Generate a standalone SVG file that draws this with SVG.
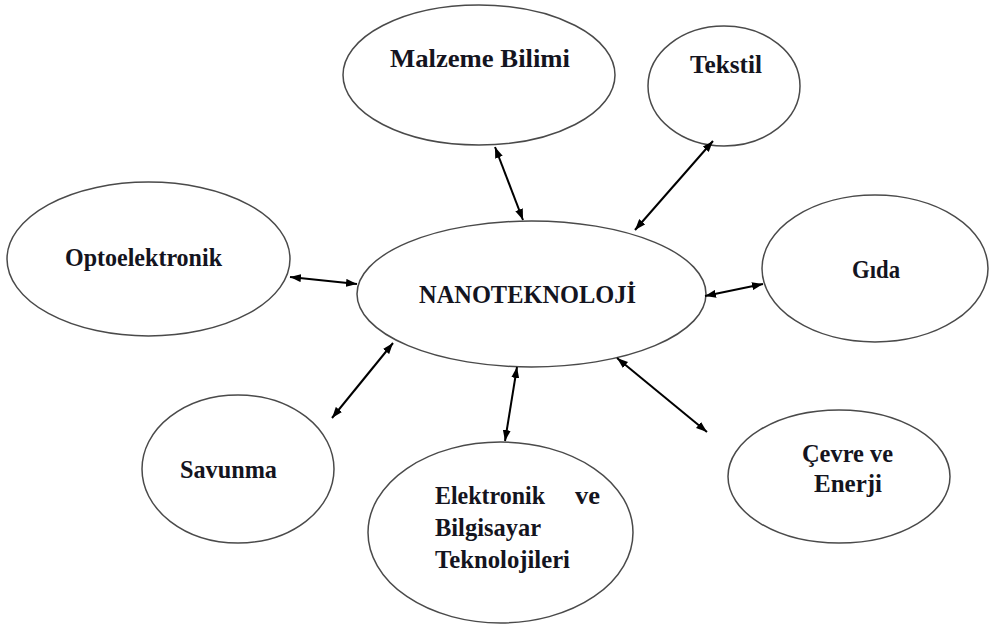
<svg xmlns="http://www.w3.org/2000/svg" width="990" height="628" viewBox="0 0 990 628">
<defs>
<style>
.node ellipse{fill:#fff;stroke:#4a4a4a;stroke-width:1.5}
.node text{font-family:"Liberation Serif","Times New Roman",serif;font-weight:bold;font-size:26px;fill:#141420}
.conn line{stroke:#000;stroke-width:2;marker-start:url(#ah);marker-end:url(#ah)}
</style>
<marker id="ah" viewBox="0 0 11 8" refX="11" refY="4" markerWidth="11" markerHeight="8" markerUnits="userSpaceOnUse" orient="auto-start-reverse">
<path d="M0,0 L11,4 L0,8 z" fill="#000"/>
</marker>
</defs>
<rect width="990" height="628" fill="#fff"/>
<g id="malzeme" class="node">
<ellipse cx="479" cy="75" rx="136" ry="70"/>
<text x="390" y="67" textLength="180" lengthAdjust="spacingAndGlyphs">Malzeme Bilimi</text>
</g>
<g id="tekstil" class="node">
<ellipse cx="724" cy="86" rx="76" ry="60"/>
<text x="690" y="73" textLength="72" lengthAdjust="spacingAndGlyphs">Tekstil</text>
</g>
<g id="opto" class="node">
<ellipse cx="148.5" cy="259" rx="141.5" ry="77"/>
<text x="65" y="266" textLength="157" lengthAdjust="spacingAndGlyphs">Optoelektronik</text>
</g>
<g id="nano" class="node">
<ellipse cx="531.5" cy="294" rx="174.5" ry="73"/>
<text x="419" y="303" textLength="217" lengthAdjust="spacingAndGlyphs">NANOTEKNOLOJİ</text>
</g>
<g id="gida" class="node">
<ellipse cx="875" cy="268.5" rx="113" ry="73.5"/>
<text x="852" y="278" textLength="48" lengthAdjust="spacingAndGlyphs">Gıda</text>
</g>
<g id="savunma" class="node">
<ellipse cx="238" cy="469" rx="96" ry="74"/>
<text x="180" y="478" textLength="97" lengthAdjust="spacingAndGlyphs">Savunma</text>
</g>
<g id="elektronik" class="node">
<ellipse cx="500.5" cy="532.5" rx="132.5" ry="90.5"/>
<text x="435" y="504" textLength="110" lengthAdjust="spacingAndGlyphs">Elektronik</text>
<text x="575" y="504" textLength="25" lengthAdjust="spacingAndGlyphs">ve</text>
<text x="435" y="536" textLength="106" lengthAdjust="spacingAndGlyphs">Bilgisayar</text>
<text x="435" y="568" textLength="135" lengthAdjust="spacingAndGlyphs">Teknolojileri</text>
</g>
<g id="cevre" class="node">
<ellipse cx="839" cy="476.5" rx="111" ry="66.5"/>
<text x="802" y="462" textLength="91" lengthAdjust="spacingAndGlyphs">Çevre ve</text>
<text x="814" y="492" textLength="68" lengthAdjust="spacingAndGlyphs">Enerji</text>
</g>
<g id="connectors" class="conn">
<line x1="495" y1="147" x2="523" y2="220"/>
<line x1="713" y1="141" x2="635" y2="230"/>
<line x1="290" y1="277" x2="357" y2="284"/>
<line x1="705" y1="296" x2="763" y2="284"/>
<line x1="393" y1="343" x2="332" y2="418"/>
<line x1="517" y1="367" x2="505" y2="441"/>
<line x1="617" y1="358" x2="707" y2="432"/>
</g>
</svg>
